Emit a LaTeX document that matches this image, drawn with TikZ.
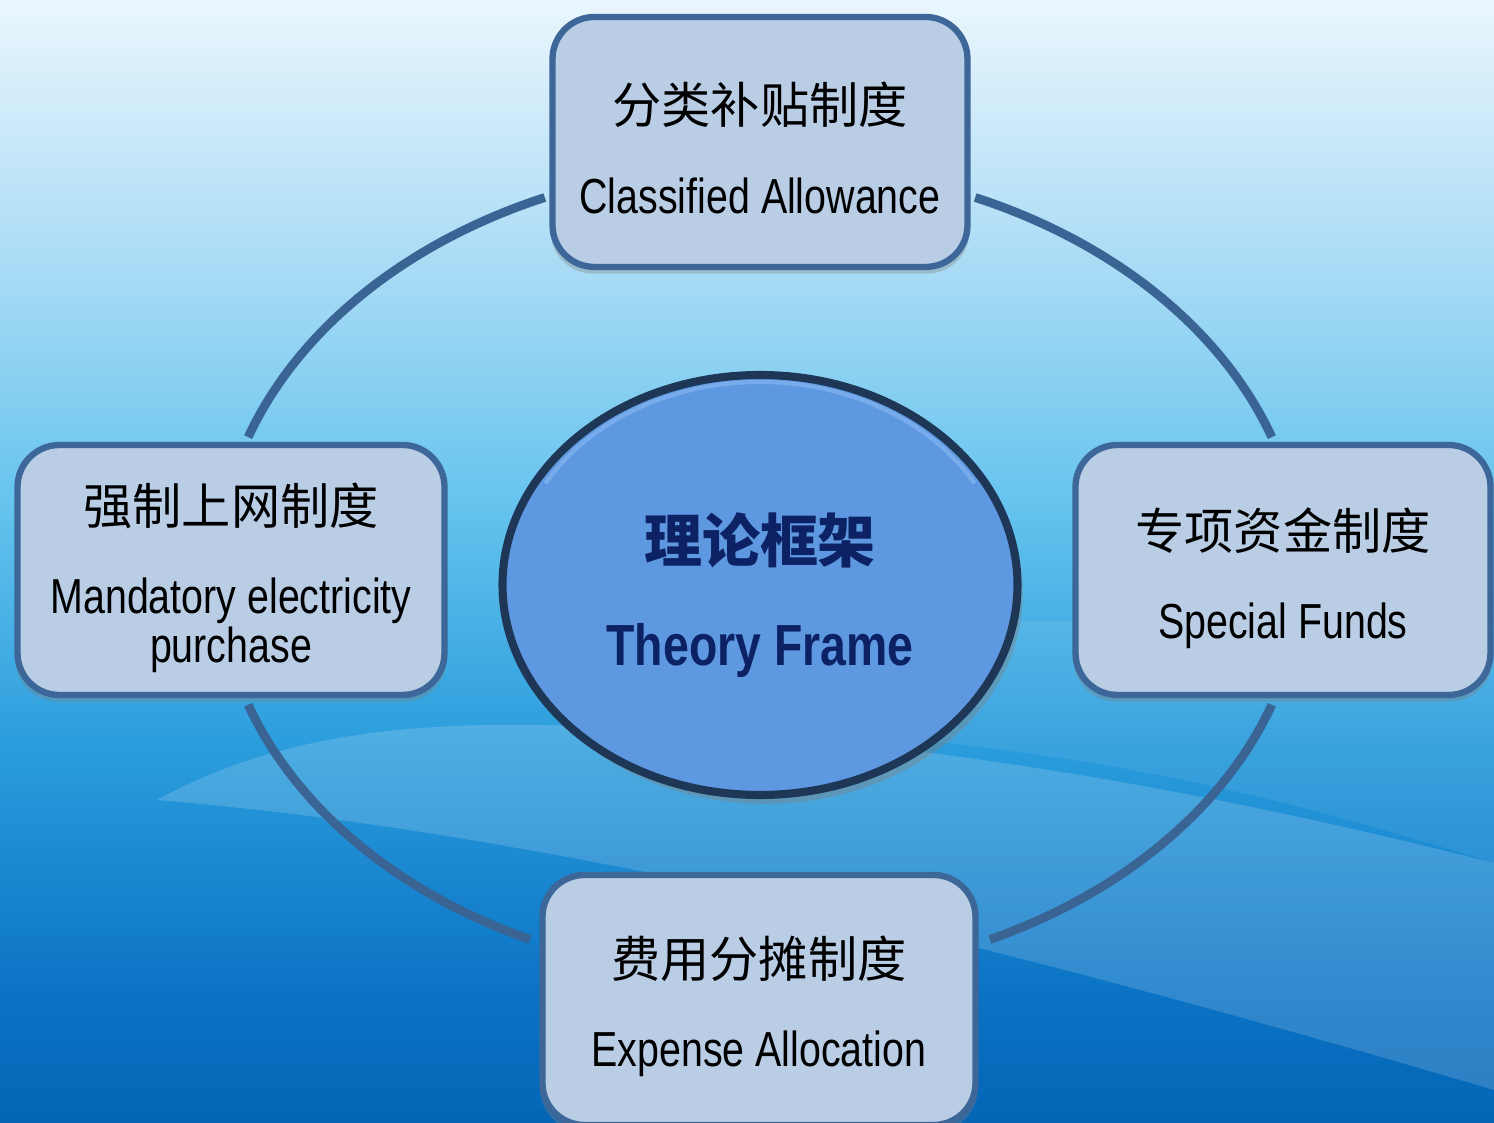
\documentclass[tikz,border=0pt]{standalone}
\usepackage{fontspec}
\setmainfont{Liberation Sans}
\newfontfamily\cjk{Noto Sans CJK SC}
\newfontfamily\cond[FakeStretch=0.8]{Liberation Sans}
\usetikzlibrary{shapes.geometric,shadows}
\definecolor{bg1}{HTML}{EAF6FD}
\definecolor{bg2}{HTML}{AEDDF6}
\definecolor{bg3}{HTML}{66C4EE}
\definecolor{bg4}{HTML}{2A9CDC}
\definecolor{bg5}{HTML}{0A72C4}
\definecolor{bg6}{HTML}{0465B5}
\definecolor{boxfill}{HTML}{B9CDE5}
\definecolor{boxline}{HTML}{3D6699}
\definecolor{ringcol}{HTML}{3A6494}
\definecolor{ellfill}{HTML}{5E98E0}
\definecolor{ellline}{HTML}{1F3757}
\definecolor{ellrim}{HTML}{7FB0EE}
\definecolor{navy}{HTML}{0C2264}
\pgfdeclareverticalshading{bgshade}{100bp}{color(0bp)=(bg6); color(25bp)=(bg6); color(30.5bp)=(bg5); color(41.6bp)=(bg4); color(52.7bp)=(bg3); color(63.9bp)=(bg2); color(75bp)=(bg1); color(100bp)=(bg1)}
\tikzset{
  infobox/.style={draw=boxline, line width=1.8pt, fill=boxfill, rounded corners=0.42cm,
    minimum height=2.5cm, inner sep=0pt,
    drop shadow={shadow xshift=0pt, shadow yshift=-1.5pt, opacity=0.35, shadow scale=1.01}},
  boxtext/.style={inner sep=0pt, align=center, font=\fontsize{14pt}{14pt}\selectfont},
  ring/.style={draw=ringcol, line width=2.5pt},
  centre/.style={ellipse, draw=ellline, line width=2.3pt, fill=ellfill,
    minimum width=5.15cm, minimum height=4.2cm, inner sep=0pt,
    drop shadow={shadow xshift=1.5pt, shadow yshift=-2.5pt, opacity=0.4}},
  centretext/.style={inner sep=0pt, align=center, text=navy,
    font=\fontsize{16.5pt}{16.5pt}\selectfont\bfseries}
}
\begin{document}
\begin{tikzpicture}
\useasboundingbox (0,0) rectangle (14.94,11.23);
\clip (0,0) rectangle (14.94,11.23);
% background
\shade[shading=bgshade] (0,0) rectangle (14.94,11.23);
\fill[white, opacity=0.16] (1.57,3.23) .. controls (2.6,3.8) and (3.8,4.0) .. (5.3,3.98)
  .. controls (8,3.95) and (11,3.6) .. (14.94,2.6) -- (14.94,0.33)
  .. controls (12,1.2) and (9,2.0) .. (6.5,2.5)
  .. controls (4,3.0) and (2.5,3.15) .. (1.57,3.23) -- cycle;
\fill[white, opacity=0.07] (9.0,5.03) .. controls (11.5,5.0) and (13,5.05) .. (14.94,5.0)
  -- (14.94,2.6) .. controls (13,3.2) and (11.5,3.6) .. (9.0,3.85) -- cycle;
% ring
\coordinate (rc) at (7.60,5.52);
\draw[ring] (rc) ++(113.4:5.42cm and 4.07cm) arc[start angle=113.4, end angle=160.8, x radius=5.42cm, y radius=4.07cm];
\draw[ring] (rc) ++(19.2:5.42cm and 4.07cm) arc[start angle=19.2, end angle=66.6, x radius=5.42cm, y radius=4.07cm];
\draw[ring] (rc) ++(199.2:5.42cm and 4.07cm) arc[start angle=199.2, end angle=244.9, x radius=5.42cm, y radius=4.07cm];
\draw[ring] (rc) ++(295.1:5.42cm and 4.07cm) arc[start angle=295.1, end angle=340.8, x radius=5.42cm, y radius=4.07cm];
% centre
\node[centre] (theory) at (7.60,5.38) {};
\draw[ellrim, line width=1.2pt, opacity=0.8] (theory.center) ++(150:2.48cm and 2.03cm) arc[start angle=150, end angle=30, x radius=2.48cm, y radius=2.03cm];
\node[centretext] (theorytext) at ([yshift=-0.1cm]theory.center) {{\cjk\bfseries 理论框架}\\[0.45cm]{\cond\bfseries Theory Frame}};
% boxes
\node[infobox, minimum width=4.15cm] (top) at (7.60,9.81) {};
\node[boxtext] (toptext) at ([yshift=-0.06cm]top.center) {{\cjk 分类补贴制度}\\[0.4cm]{\cond Classified Allowance}};
\node[infobox, minimum width=4.27cm] (left) at (2.31,5.53) {};
\node[boxtext] (lefttext) at ([yshift=-0.08cm]left.center) {{\cjk 强制上网制度}\\[0.4cm]{\cond Mandatory electricity}\\{\cond purchase}};
\node[infobox, minimum width=4.15cm] (right) at (12.83,5.53) {};
\node[boxtext] (righttext) at ([yshift=-0.08cm]right.center) {{\cjk 专项资金制度}\\[0.4cm]{\cond Special Funds}};
\node[infobox, minimum width=4.33cm] (bottom) at (7.59,1.23) {};
\node[boxtext] (bottomtext) at ([yshift=-0.06cm]bottom.center) {{\cjk 费用分摊制度}\\[0.4cm]{\cond Expense Allocation}};
\end{tikzpicture}
\end{document}
